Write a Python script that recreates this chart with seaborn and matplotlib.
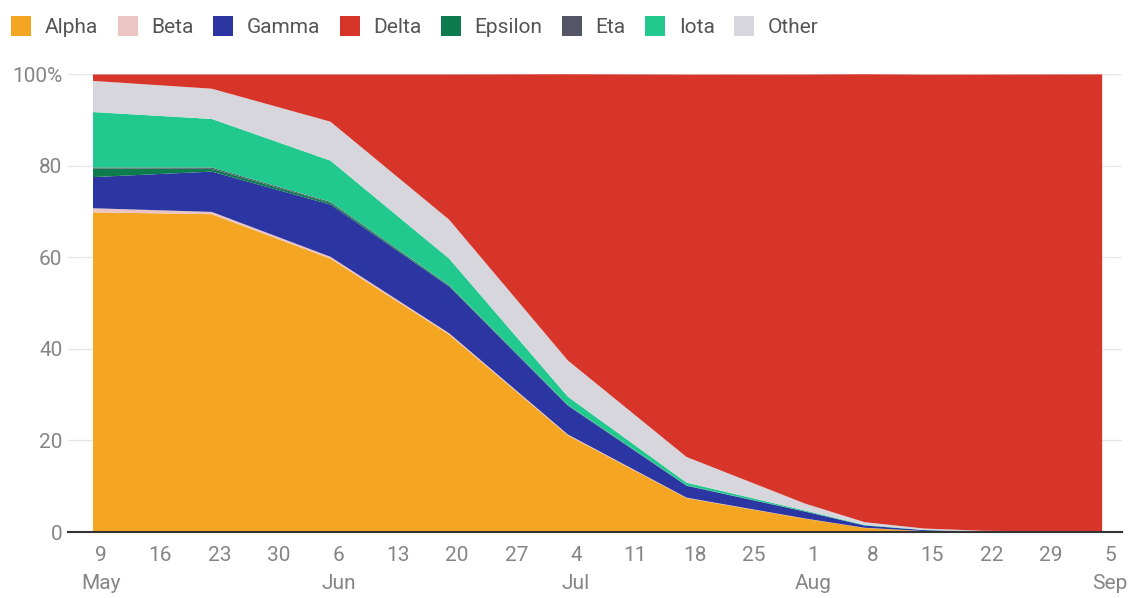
import matplotlib
matplotlib.use("Agg")
import matplotlib.pyplot as plt
from matplotlib.patches import Patch
import seaborn as sns
import pandas as pd

dates = pd.to_datetime([
    "2021-05-08", "2021-05-22", "2021-06-05", "2021-06-19", "2021-07-03", "2021-07-17",
    "2021-07-31", "2021-08-07", "2021-08-14", "2021-08-21", "2021-08-28", "2021-09-04",
])
alpha   = [69.9, 69.5, 59.8, 43.2, 21.2, 7.5, 3.0, 1.0, 0.3, 0.1, 0.05, 0.03]
beta    = [0.9, 0.5, 0.4, 0.3, 0.2, 0.1, 0.05, 0.03, 0.02, 0.01, 0.01, 0.01]
gamma   = [6.8, 8.8, 11.4, 10.2, 6.3, 2.6, 1.5, 0.5, 0.2, 0.05, 0.03, 0.02]
epsilon = [1.9, 0.6, 0.4, 0.2, 0.1, 0.05, 0.02, 0.01, 0.0, 0.0, 0.0, 0.0]
eta     = [0.2, 0.3, 0.2, 0.1, 0.05, 0.03, 0.02, 0.01, 0.0, 0.0, 0.0, 0.0]
iota    = [12.1, 10.6, 9.0, 5.8, 1.8, 0.6, 0.2, 0.1, 0.05, 0.02, 0.01, 0.01]
other   = [6.8, 6.6, 8.5, 8.5, 7.9, 5.6, 1.5, 0.6, 0.3, 0.2, 0.15, 0.15]
delta   = [1.4, 3.1, 10.3, 31.7, 62.5, 83.5, 93.7, 97.8, 99.1, 99.6, 99.75, 99.8]

legend_order = ["Alpha", "Beta", "Gamma", "Delta", "Epsilon", "Eta", "Iota", "Other"]
colors = {
    "Alpha": "#F4A623", "Beta": "#EBC4C4", "Gamma": "#2B36A2", "Delta": "#D8352A",
    "Epsilon": "#0E7B4F", "Eta": "#545667", "Iota": "#22C98F", "Other": "#D6D6DC",
}
stack_order = ["Alpha", "Beta", "Gamma", "Epsilon", "Eta", "Iota", "Other", "Delta"]
series = {"Alpha": alpha, "Beta": beta, "Gamma": gamma, "Epsilon": epsilon,
          "Eta": eta, "Iota": iota, "Other": other, "Delta": delta}

sns.set_theme(style="white")
plt.rcParams["font.family"] = ["Roboto", "DejaVu Sans"]

fig = plt.figure(figsize=(11.33, 5.98), dpi=100)
ax = fig.add_axes([68 / 1133, 66 / 598, 1054 / 1133, 458 / 598])

ax.stackplot(dates, *[series[k] for k in stack_order],
             colors=[colors[k] for k in stack_order], linewidth=0, zorder=2)

start = pd.Timestamp("2021-05-08")
ax.set_xlim(start - pd.Timedelta(days=2.89), start + pd.Timedelta(days=121.4))
ax.set_ylim(0, 100)

ax.set_yticks([0, 20, 40, 60, 80, 100])
ax.set_yticklabels(["0", "20", "40", "60", "80", "100%"])
ax.yaxis.grid(True, color="#E6E6E6", linewidth=1, zorder=0)
ax.set_axisbelow(True)

ticks = pd.date_range("2021-05-09", "2021-09-05", freq="7D")
labels = []
prev_month = None
for t in ticks:
    if t.month != prev_month:
        labels.append(f"{t.day}\n{t.strftime('%b')}")
        prev_month = t.month
    else:
        labels.append(f"{t.day}")
ax.set_xticks(ticks)
ax.set_xticklabels(labels)
for lbl in ax.get_xticklabels():
    lbl.set_linespacing(1.6)

ax.tick_params(axis="both", length=0, labelsize=15, colors="#858585")
ax.tick_params(axis="x", pad=10)
ax.tick_params(axis="y", pad=4)

sns.despine(ax=ax, left=True, right=True, top=True, bottom=False)
ax.spines["bottom"].set_color("#333333")
ax.spines["bottom"].set_linewidth(1.5)
ax.spines["bottom"].set_zorder(3)

handles = [Patch(facecolor=colors[k], edgecolor="none", label=k) for k in legend_order]
leg = fig.legend(handles=handles, loc="upper left", bbox_to_anchor=(3 / 1133, 1 - 8 / 598),
                 ncol=8, frameon=False, fontsize=15, handlelength=0.95, handleheight=1.05,
                 handletextpad=0.65, columnspacing=0.95, borderaxespad=0)
for t in leg.get_texts():
    t.set_color("#555555")

fig.savefig("out.png", dpi=100)
